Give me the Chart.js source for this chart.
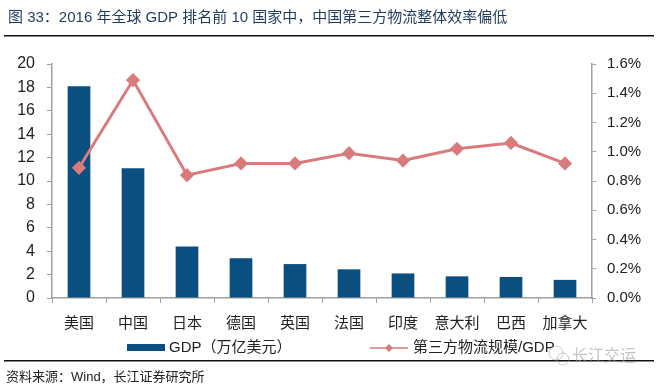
<!DOCTYPE html>
<html>
<head>
<meta charset="utf-8">
<script src="https://cdn.jsdelivr.net/npm/chart.js@4.4.1/dist/chart.umd.min.js"></script>
<style>
  html, body { margin: 0; padding: 0; background: #fff; }
  canvas { display: block; }
</style>
</head>
<body>
<canvas id="chart" width="658" height="386"></canvas>
<script>
// categories and series
const countries = ['美国', '中国', '日本', '德国', '英国', '法国', '印度', '意大利', '巴西', '加拿大'];
const gdp = [18.1, 11.1, 4.4, 3.4, 2.9, 2.45, 2.1, 1.85, 1.8, 1.55];          // 万亿美元
const logisticsRatio = [0.89, 1.49, 0.84, 0.92, 0.92, 0.99, 0.94, 1.02, 1.06, 0.92]; // %
const leftTicks = [0, 2, 4, 6, 8, 10, 12, 14, 16, 18, 20];
const rightTicks = [0, 0.2, 0.4, 0.6, 0.8, 1.0, 1.2, 1.4, 1.6];

const titleText = '图 33：2016 年全球 GDP 排名前 10 国家中，中国第三方物流整体效率偏低';
const sourceText = '资料来源：Wind，长江证券研究所';
const gdpLabel = 'GDP（万亿美元）';
const ratioLabel = '第三方物流规模/GDP';

const FONT = "'Liberation Sans', 'Noto Sans CJK SC', sans-serif";
const BAR = '#0a4f80';
const LINE = '#d97b7d';
const AXIS = '#a0a0a0';

// title, dividers, legend, source line
const frame = {
  id: 'frame',
  afterDraw(chart) {
    const c = chart.ctx;
    const lineSet = chart.data.datasets[0];
    const barSet = chart.data.datasets[1];
    c.save();
    c.textBaseline = 'middle';
    c.textAlign = 'left';

    c.fillStyle = '#1f3b5c';
    c.font = '15px ' + FONT;
    c.fillText(titleText, 8, 18);

    c.fillStyle = '#111';
    c.fillRect(4, 35, 650, 1.5);
    c.fillRect(4, 360, 650, 1.5);

    // legend
    c.font = '15px ' + FONT;
    c.fillStyle = barSet.backgroundColor;
    c.fillRect(127, 344, 38, 7);
    c.fillStyle = '#222';
    c.fillText(gdpLabel, 169, 348);

    const lc = lineSet.borderColor;
    c.strokeStyle = lc;
    c.lineWidth = 1.5;
    c.beginPath();
    c.moveTo(370, 348);
    c.lineTo(408, 348);
    c.stroke();
    c.fillStyle = lc;
    c.beginPath();
    c.moveTo(389, 344); c.lineTo(393, 348); c.lineTo(389, 352); c.lineTo(385, 348);
    c.closePath();
    c.fill();
    c.fillStyle = '#222';
    c.fillText(ratioLabel, 413, 348);

    // watermark
    c.fillStyle = 'rgba(150,150,150,0.55)';
    c.font = '16px ' + FONT;
    c.fillText('长江交运', 572, 357);
    c.strokeStyle = 'rgba(150,150,150,0.5)';
    c.lineWidth = 1;
    c.beginPath(); c.arc(556, 353, 7, 0, Math.PI * 2); c.stroke();
    c.beginPath(); c.arc(563, 359, 6, 0, Math.PI * 2); c.stroke();

    c.fillStyle = '#222';
    c.font = '13px ' + FONT;
    c.fillText(sourceText, 6, 377);
    c.restore();
  }
};

new Chart(document.getElementById('chart'), {
  data: {
    labels: countries,
    datasets: [
      {
        type: 'line',
        label: ratioLabel,
        data: logisticsRatio,
        yAxisID: 'y1',
        borderColor: LINE,
        backgroundColor: LINE,
        borderWidth: 3,
        pointStyle: 'rectRot',
        pointRadius: 5,
        pointBackgroundColor: LINE,
        pointBorderColor: LINE,
        tension: 0,
        order: 0
      },
      {
        type: 'bar',
        label: gdpLabel,
        data: gdp,
        yAxisID: 'y',
        backgroundColor: BAR,
        barPercentage: 0.42,
        categoryPercentage: 1,
        order: 1
      }
    ]
  },
  options: {
    responsive: false,
    animation: false,
    layout: { padding: { top: 64, left: 0, right: 0, bottom: 0 } },
    plugins: {
      legend: { display: false },
      tooltip: { enabled: false }
    },
    scales: {
      x: {
        afterFit(s) { s.height = 88; },
        grid: { offset: true, drawOnChartArea: false, drawTicks: true, tickLength: 5, color: AXIS },
        border: { color: AXIS, width: 1.5 },
        ticks: { color: '#222', font: { size: 15, family: FONT }, padding: 12, maxRotation: 0 }
      },
      y: {
        position: 'left',
        min: 0,
        max: 20,
        afterFit(s) { s.width = 52; },
        afterBuildTicks(s) { s.ticks = leftTicks.map(v => ({ value: v })); },
        grid: { drawOnChartArea: false, tickLength: 5, color: AXIS },
        border: { color: AXIS, width: 1.5 },
        ticks: { color: '#222', font: { size: 16, family: FONT }, padding: 12 }
      },
      y1: {
        position: 'right',
        min: 0,
        max: 1.6,
        afterFit(s) { s.width = 66; },
        afterBuildTicks(s) { s.ticks = rightTicks.map(v => ({ value: v })); },
        grid: { drawOnChartArea: false, tickLength: 4, color: AXIS },
        border: { color: AXIS, width: 1.5 },
        ticks: {
          color: '#222',
          font: { size: 15, family: FONT },
          padding: 11,
          callback: v => v.toFixed(1) + '%'
        }
      }
    }
  },
  plugins: [frame]
});
</script>
</body>
</html>
